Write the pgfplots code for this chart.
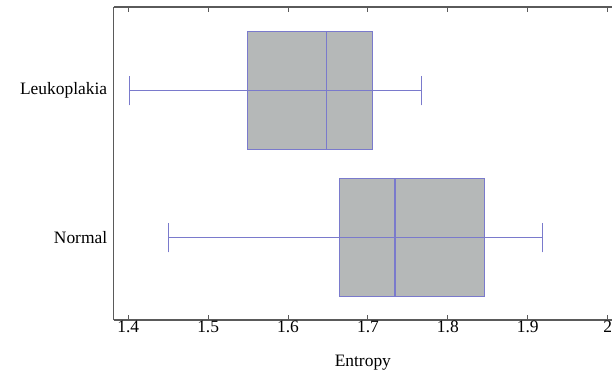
\documentclass[border=0pt]{standalone}
\usepackage{fontspec}
\setmainfont{Liberation Serif}
\usepackage{pgfplots}
\pgfplotsset{compat=1.18}
\usepgfplotslibrary{statistics}
\definecolor{boxfill}{RGB}{181,184,184}
\definecolor{boxline}{RGB}{122,122,204}
\definecolor{axisgray}{RGB}{90,90,90}
\begin{document}
\begin{tikzpicture}
\begin{axis}[
  scale only axis,
  width=498.3bp, height=313bp,
  xmin=1.3818, xmax=2.0054,
  ymin=0.44, ymax=2.569,
  axis x line=box, axis y line=left,
  axis line style={-, draw=axisgray, line width=1.1bp},
  xtick={1.4,1.5,1.6,1.7,1.8,1.9,2.0},
  xticklabels={1.4,1.5,1.6,1.7,1.8,1.9,2},
  xtick pos=both, tick align=inside,
  major tick length=5bp,
  xtick style={draw=axisgray, line width=1bp},
  ytick={1,2}, yticklabels={Normal,Leukoplakia},
  ytick style={draw=none},
  yticklabel style={xshift=-3bp},
  font=\fontsize{17.5}{20}\selectfont,
  /pgf/number format/assume math mode=true,
  xticklabel style={yshift=3bp},
  xlabel={Entropy},
  xlabel style={yshift=-16bp},
  boxplot/draw direction=x,
  boxplot/box extend=0.8,
  boxplot/whisker extend=0.2,
]
\addplot+[boxplot prepared={lower whisker=1.4504, lower quartile=1.6646, median=1.7338, upper quartile=1.8459, upper whisker=1.9180, draw position=1}, draw=boxline, fill=boxfill, line width=1.1bp, mark=none, solid] coordinates {};
\addplot[draw=boxline, line width=1.1bp] coordinates {(1.4504,1) (1.9180,1)};
\addplot[draw=boxline, line width=1.1bp] coordinates {(1.7338,0.6) (1.7338,1.4)};
\addplot+[boxplot prepared={lower whisker=1.4021, lower quartile=1.5495, median=1.6480, upper quartile=1.7059, upper whisker=1.7667, draw position=2}, draw=boxline, fill=boxfill, line width=1.1bp, mark=none, solid] coordinates {};
\addplot[draw=boxline, line width=1.1bp] coordinates {(1.4021,2) (1.7667,2)};
\addplot[draw=boxline, line width=1.1bp] coordinates {(1.6480,1.6) (1.6480,2.4)};
\end{axis}
\pgfresetboundingbox
\useasboundingbox ([xshift=-113.7bp,yshift=-54bp]current axis.south west) rectangle ([yshift=7bp]current axis.north east);
\end{tikzpicture}
\end{document}
